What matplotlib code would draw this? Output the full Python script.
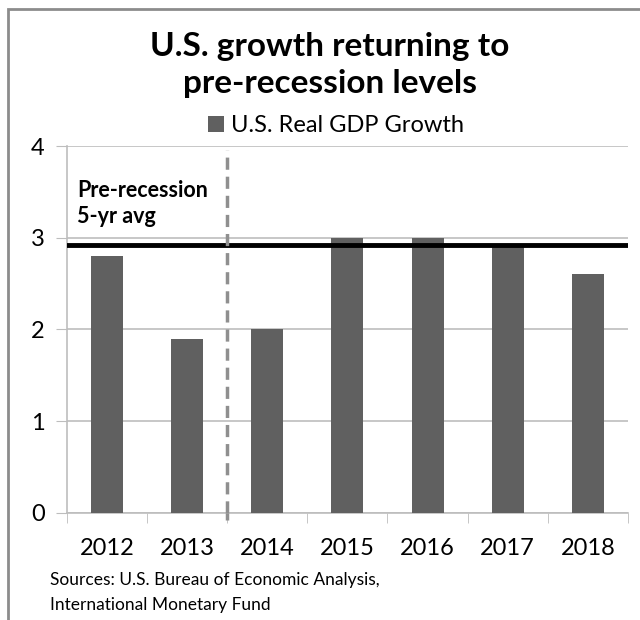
import matplotlib.pyplot as plt
from matplotlib.patches import Rectangle

plt.rcParams['font.family'] = ['Lato', 'DejaVu Sans']

# data
years = ['2012', '2013', '2014', '2015', '2016', '2017', '2018']
gdp_growth = [2.8, 1.9, 2.0, 3.0, 3.0, 2.9, 2.6]
pre_recession_avg = 2.92
forecast_split = 1.5  # between 2013 and 2014

bar_color = '#606060'
grid_color = '#bdbdbd'

fig = plt.figure(figsize=(6.4, 6.2), dpi=100)
ax = fig.add_axes([0.1047, 0.1726, 0.8763, 0.5919])

# outer frame of the chart area
fig.patches.append(Rectangle((0.0125, -0.1), 1.2, 0.9855 + 0.1, transform=fig.transFigure,
                             fill=False, edgecolor='#8c8c8c', linewidth=2))

x = range(len(years))
bars = ax.bar(x, gdp_growth, width=0.4, color=bar_color, label='U.S. Real GDP Growth', zorder=3)

ax.axhline(pre_recession_avg, color='black', linewidth=3.5, zorder=4)
ax.axvline(forecast_split, ymin=0.0, ymax=0.99, color='#8f8f8f', linewidth=2.5,
           linestyle=(0, (3.5, 2)), zorder=5, clip_on=False)
ax.plot([forecast_split, forecast_split], [-0.08, 0], color='#8f8f8f', linewidth=2.5,
        linestyle=(0, (3.5, 2)), clip_on=False, zorder=5)

ax.text(-0.37, 3.37, 'Pre-recession\n5-yr avg', fontsize=15.5, fontweight='bold',
        va='center', ha='left', linespacing=1.3)

ax.set_xlim(-0.5, len(years) - 0.5)
ax.set_ylim(0, 4)
ax.set_yticks([0, 1, 2, 3, 4])
ax.set_xticks(list(x))
ax.set_xticklabels(years, fontsize=17)
ax.tick_params(axis='y', labelsize=17, length=8, color=grid_color, pad=8)
ax.tick_params(axis='x', length=0, pad=18)
ax.set_xticks([i + 0.5 for i in range(-1, len(years))], minor=True)
ax.tick_params(axis='x', which='minor', length=7, color=grid_color)
ax.grid(axis='y', color=grid_color, linewidth=1.2, zorder=0)

for s in ['top', 'right']:
    ax.spines[s].set_visible(False)
for s in ['left', 'bottom']:
    ax.spines[s].set_color(grid_color)
    ax.spines[s].set_linewidth(1.2)

fig.text(0.515, 0.895, 'U.S. growth returning to\npre-recession levels', ha='center', va='center',
         fontsize=24, fontweight='bold', linespacing=1.35)

leg = fig.legend(handles=[bars], loc='center', bbox_to_anchor=(0.525, 0.797), frameon=False,
                 fontsize=17, handlelength=0.7, handleheight=0.7, handletextpad=0.3)

fig.text(0.078, 0.045, 'Sources: U.S. Bureau of Economic Analysis,\nInternational Monetary Fund',
         ha='left', va='center', fontsize=12.5, linespacing=1.7)

fig.savefig('out.png', dpi=100)
